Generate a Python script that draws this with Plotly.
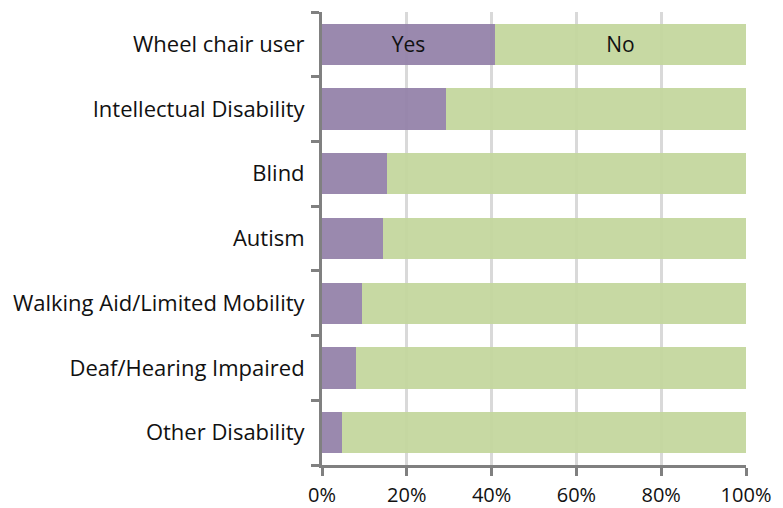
import plotly.graph_objects as go

categories = [
    "Wheel chair user",
    "Intellectual Disability",
    "Blind",
    "Autism",
    "Walking Aid/Limited Mobility",
    "Deaf/Hearing Impaired",
    "Other Disability",
]
yes_pct = [40.8, 29.2, 15.3, 14.4, 9.4, 7.9, 4.7]
no_pct = [round(100 - v, 1) for v in yes_pct]
x_ticks = [0, 20, 40, 60, 80, 100]
x_tick_labels = ["0%", "20%", "40%", "60%", "80%", "100%"]

# Only the top row carries the series names inside its segments
yes_text = ["Yes"] + [""] * (len(categories) - 1)
no_text = ["No"] + [""] * (len(categories) - 1)

font_family = "Open Sans, Liberation Sans, sans-serif"
text_color = "#111111"

fig = go.Figure()
fig.add_trace(go.Bar(
    y=categories, x=yes_pct, orientation="h", name="Yes",
    marker=dict(color="rgba(146,128,168,0.93)", line=dict(width=0)),
    text=yes_text, textposition="inside", insidetextanchor="middle",
    textfont=dict(family=font_family, size=21, color=text_color),
    hoverinfo="x+y",
))
fig.add_trace(go.Bar(
    y=categories, x=no_pct, orientation="h", name="No",
    marker=dict(color="rgba(196,215,158,0.95)", line=dict(width=0)),
    text=no_text, textposition="inside", insidetextanchor="middle",
    textfont=dict(family=font_family, size=21, color=text_color),
    hoverinfo="x+y",
))

fig.update_layout(
    barmode="stack",
    bargap=0.36,
    width=783, height=508,
    margin=dict(l=322, r=37, t=12, b=43),
    paper_bgcolor="white",
    plot_bgcolor="white",
    showlegend=False,
    font=dict(family=font_family, size=21, color=text_color),
    uniformtext=dict(mode="show", minsize=10),
)
fig.update_xaxes(
    range=[0, 100],
    automargin=False,
    tickvals=x_ticks, ticktext=x_tick_labels,
    showgrid=True, gridcolor="#d9d9d9", gridwidth=3,
    showline=True, linecolor="#808080", linewidth=3,
    ticks="outside", ticklen=8, tickwidth=3, tickcolor="#808080",
    ticklabelstandoff=2,
    zeroline=False,
    tickfont=dict(family=font_family, size=20, color=text_color),
)
fig.update_yaxes(
    automargin=False,
    categoryorder="array", categoryarray=categories[::-1],
    showline=True, linecolor="#808080", linewidth=3,
    ticks="outside", ticklen=8, tickwidth=3, tickcolor="#808080",
    tickson="boundaries",
    ticklabelstandoff=10,
    showgrid=False,
    tickfont=dict(family=font_family, size=22, color=text_color),
)

fig.write_html("out.html")
